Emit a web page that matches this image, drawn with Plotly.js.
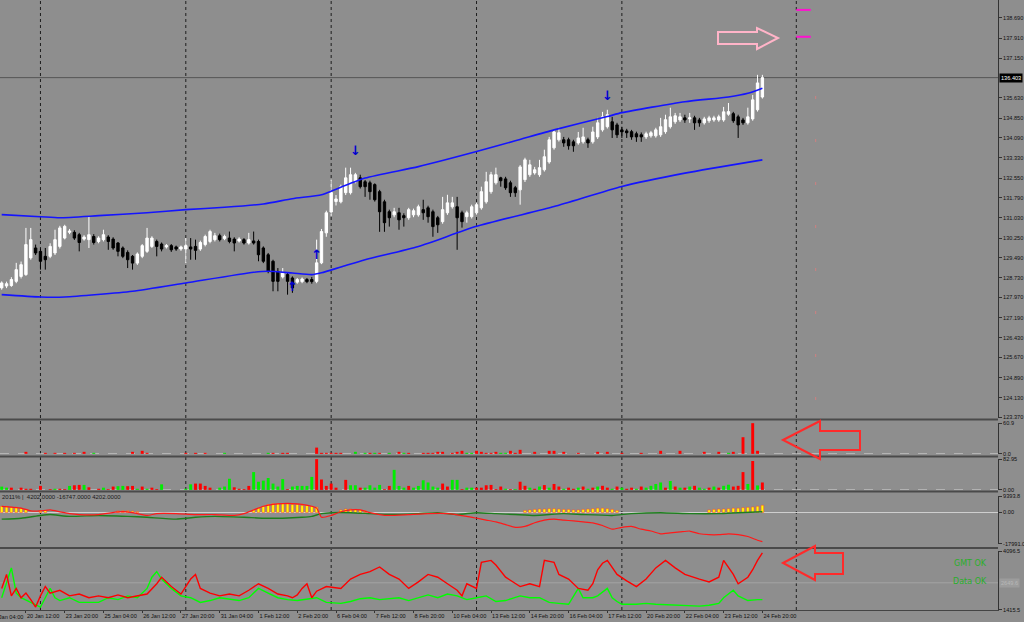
<!DOCTYPE html>
<html><head><meta charset="utf-8">
<script src="https://cdn.plot.ly/plotly-3.0.1.min.js"></script>
<style>html,body{margin:0;padding:0;background:#8e8e8e;}#chart{width:1024px;height:622px;}</style>
</head><body><div id="chart"></div>
<script>
// ---------------- DATA ----------------
const opens = [128.34,128.41,128.43,128.59,128.78,128.85,129.49,129.87,129.74,129.55,129.55,129.68,129.93,130.25,130.47,130.47,130.38,130.21,130.19,130.31,130.12,130.19,130.29,130.21,130.06,129.87,129.70,129.55,129.29,129.55,129.74,129.93,130.12,130.02,129.91,129.96,129.91,129.83,129.83,129.91,129.93,129.83,130.00,130.12,130.19,130.34,130.23,130.25,130.21,130.14,130.19,130.06,130.14,130.12,129.87,129.61,129.36,128.97,128.76,128.85,128.72,128.56,128.58,128.66,128.66,128.59,
129.30,130.45,131.25,131.65,131.64,131.99,131.99,132.41,132.56,132.41,132.37,132.30,132.03,131.64,131.26,131.14,131.22,131.11,131.03,131.14,131.14,131.34,131.41,131.26,131.03,130.88,131.22,131.45,131.45,131.22,131.07,131.07,131.22,131.41,131.64,132.03,132.37,132.56,132.52,132.37,132.18,132.10,132.49,132.68,132.75,132.68,132.87,133.17,133.71,134.02,134.02,134.02,133.94,133.90,133.94,134.02,133.94,134.13,134.40,134.52,134.71,134.59,134.40,134.36,134.33,134.25,134.21,134.13,134.17,134.17,134.21,134.33,134.52,134.71,134.78,134.86,134.82,134.86,134.78,134.67,134.75,134.78,134.78,134.78,135.00,135.02,134.90,134.78,134.67,134.82,135.17,135.66];
const highs = [128.59,128.58,128.75,129.30,129.35,130.64,130.64,130.00,129.85,129.87,130.05,130.57,130.72,130.76,130.60,130.55,130.45,130.36,131.06,130.40,130.32,130.57,130.36,130.28,130.10,129.93,129.78,129.60,129.70,130.02,130.64,130.32,130.19,130.08,130.02,130.02,129.96,129.96,130.25,130.25,130.19,130.15,130.38,130.57,130.45,130.42,130.38,130.50,130.28,130.28,130.25,130.45,130.50,130.19,129.93,129.68,129.42,129.10,129.10,128.93,128.78,128.72,128.74,128.72,128.76,130.19,
130.60,131.30,132.49,131.90,132.30,132.95,132.95,132.75,132.68,132.48,132.45,132.35,132.10,131.72,131.34,131.41,131.41,131.20,131.41,131.38,131.53,131.72,131.49,131.34,131.10,131.83,131.91,131.83,131.83,131.30,131.30,131.53,131.60,132.22,132.79,132.79,132.95,132.60,132.60,132.45,132.25,133.05,133.33,133.25,132.98,133.25,133.64,134.13,134.40,134.48,134.13,134.10,134.02,134.32,134.48,134.10,134.52,134.86,135.09,135.17,134.90,134.67,134.52,134.44,134.40,134.33,134.30,134.33,134.36,134.48,134.86,134.98,135.25,135.05,135.05,134.98,135.05,134.94,134.86,134.90,134.94,134.94,134.98,135.28,135.43,135.09,134.98,134.86,135.25,135.74,136.51,136.51];
const lows = [128.27,128.33,128.38,128.52,128.70,128.80,129.42,129.60,129.04,129.04,129.48,129.60,129.85,130.20,130.40,130.18,129.74,130.15,129.87,130.00,130.05,130.12,129.80,129.80,129.55,129.48,129.10,129.04,129.22,129.48,129.68,129.87,129.55,129.74,129.85,129.72,129.76,129.76,129.29,129.42,129.42,129.76,129.93,130.05,130.12,130.12,130.17,130.05,129.74,130.08,130.00,130.00,130.00,129.36,129.29,128.90,128.21,128.21,128.70,128.08,128.15,128.50,128.52,128.52,128.50,128.52,
129.25,130.30,131.10,131.50,131.58,131.90,131.92,132.35,132.15,131.83,131.72,131.65,130.49,130.49,130.69,131.05,130.57,130.69,130.95,131.05,131.07,130.95,130.84,130.30,130.45,130.80,131.14,131.38,129.80,130.65,130.84,131.00,131.15,131.34,131.57,131.95,132.30,132.22,132.10,131.83,131.83,131.53,132.40,132.60,132.68,132.60,132.80,133.10,133.64,133.95,133.75,133.64,133.56,133.83,133.87,133.71,133.87,134.05,134.33,134.45,134.09,134.09,134.09,134.09,134.02,133.94,133.94,134.05,134.10,134.10,134.13,134.25,134.45,134.63,134.70,134.67,134.67,134.40,134.52,134.60,134.67,134.71,134.71,134.71,134.94,134.67,134.09,134.59,134.60,134.75,135.10,135.60];
const closes = [128.53,128.50,128.66,129.04,129.23,130.00,130.19,129.68,129.36,129.42,129.93,130.19,130.64,130.70,130.52,130.25,130.08,130.29,130.38,130.08,130.25,130.38,130.12,129.87,129.74,129.55,129.42,129.29,129.64,129.96,130.25,130.25,129.93,129.83,129.96,129.80,129.83,129.91,129.96,129.83,129.78,130.08,130.31,130.50,130.34,130.19,130.31,130.12,130.06,130.21,130.06,130.19,130.06,129.61,129.36,128.97,128.59,128.59,128.91,128.59,128.34,128.66,128.68,128.58,128.58,129.30,
130.50,131.22,132.00,131.75,132.22,132.56,132.68,132.68,132.22,132.22,132.03,131.72,131.26,130.84,131.03,131.26,130.95,131.03,131.34,131.30,131.45,131.22,131.07,130.69,130.76,131.34,131.60,131.60,131.03,130.88,131.22,131.45,131.53,132.03,132.41,132.68,132.68,132.45,132.18,131.99,131.99,132.98,133.25,133.06,132.87,132.95,133.37,134.02,134.32,134.29,133.90,133.79,133.79,134.09,134.13,133.90,134.32,134.67,134.90,134.98,134.40,134.21,134.32,134.29,134.13,134.13,134.13,134.25,134.29,134.40,134.52,134.79,134.90,134.94,134.90,134.78,134.86,134.67,134.67,134.82,134.86,134.86,134.90,135.09,135.10,134.75,134.59,134.67,134.90,135.55,136.20,136.403];

const upperBandX = [0,8,12,20,30,38,46,54,60,66,68,75,86,98,106,114,125,128,141,150,154,157];
const upperBandY = [131.15,131.07,131.03,131.11,131.22,131.34,131.43,131.56,131.76,131.91,132.05,132.55,132.99,133.57,133.98,134.40,134.91,135.06,135.48,135.66,135.80,136.00];
const lowerBandX = [0,8,13,27,38,52,55,60,64,66,70,75,86,98,114,128,141,157];
const lowerBandY = [128.08,127.99,127.99,128.21,128.53,128.94,128.98,128.91,128.85,128.92,129.14,129.42,129.93,130.70,131.46,132.23,132.74,133.25];

const arrowUpX = [60,65], arrowUpY = [128.33,129.58];
const arrowDownX = [73,125], arrowDownY = [133.56,135.66];
const targetLevels = [139.00,137.97];

const priceTicks = ['123.370','124.130','124.890','125.670','126.430','127.190','127.970','128.730','129.490','130.250','131.030','131.790','132.550','133.330','134.090','134.850','135.630','137.150','137.910','138.690'];
const firstXLabel = '19 Jan 04:00', firstXLabelBar = -3;
const xTickBars = [5,13,21,29,37,45,53,61,69,77,85,93,101,109,117,125,133,141,149,157];
const xTickLabels = ['20 Jan 12:00','23 Jan 20:00','25 Jan 04:00','26 Jan 12:00','27 Jan 20:00','31 Jan 04:00','1 Feb 12:00','2 Feb 20:00','6 Feb 04:00','7 Feb 12:00','8 Feb 20:00','10 Feb 04:00','13 Feb 12:00','14 Feb 20:00','16 Feb 04:00','17 Feb 12:00','20 Feb 20:00','22 Feb 04:00','23 Feb 12:00','24 Feb 20:00'];
const gridBars = [8,38,68,98,128,164];

const p2RedX = [5,9,11,13,15,17,27,29,30,38,40,42,56,58,59,65,66,67,68,69,70,76,78,82,84,87,88,89,90,91,93,94,95,98,99,100,101,102,105,106,107,110,113,114,116,119,123,125,128,132,136,140,145,148,151,153,155,156];
const p2RedV = [4,2,2,2,2,4,4,6,2,2,2,2,2,2,2,12.4,2,2,2,2,2,2,2,4,2,2,2,2,4,4,2,4,6,6,4,2,2,4,6,2,8,4,6,6,4,2,4,4,2,2,6,6,4,4,4,33,60.9,6];
const p2GreenX = [19,46,55,73,75,77,80,83,96,97,103,104,150];
const p2GreenV = [2,2,2,4,2,2,2,2,2,2,2,2,2];

const p3RedX = [2,4,5,6,8,10,12,13,15,16,18,20,22,23,26,27,29,31,32,40,41,42,43,48,49,50,51,59,65,66,67,68,69,71,74,79,80,84,91,92,95,98,99,100,101,102,103,105,107,108,110,112,114,115,117,118,120,122,124,125,127,129,130,132,137,139,141,143,146,148,151,152,153,155,157];
const p3RedV = [6,6,3,3,10.7,2,3,2,12.5,13.4,7,3,2,9,10,10.7,9,6,2,17,17,10.7,6,7,3,2,10.7,2,82.95,28,10.7,17,6,27,6,2,10.7,10.7,17,9,2,6,6,12.5,13.4,2,9,2,22,11,3,13,16,9,6,3,9,6,11,6,9,3,6,9,6,9,6,11,6,6,9,11,48,78,20];
const p3GreenX = [0,1,11,14,17,21,24,25,28,30,33,38,39,45,46,47,52,53,54,55,56,57,58,60,61,62,63,64,72,73,75,76,77,78,81,82,83,85,86,87,88,89,90,93,94,96,97,104,106,109,111,113,116,119,121,123,126,128,131,133,134,135,136,138,140,142,144,145,147,149,150,154,156];
const p3GreenV = [8.9,6,3,10.7,13.4,6,10,10.7,3,3,15,3,15,6,9,30,48,22,25,32,17,9,29,9,10.7,10.7,10.7,35,12.5,12.5,6,12.5,6,13.4,54,10.7,6,6,10.7,26,20,9,6,27,27,6,6,3,2,6,9,6,3,6,3,9,3,6,3,6,11,16,20,24,6,9,6,3,9,11,14,16,12];

const p4HistX = [0,1,2,3,4,5,8,9,24,25,26,27,28,52,53,54,55,56,57,58,59,60,61,62,63,64,65,70,71,72,73,74,75,108,109,110,111,112,113,114,115,116,117,118,119,120,121,122,123,124,125,126,127,146,147,148,149,150,151,152,153,154,155,156,157];
const p4HistV = [3584,3584,3057,3057,2530,2003,949,1200,900,1000,1000,800,500,1476,2530,3584,4638,5165,5165,5165,4900,4638,4638,4110,4110,3584,3060,1500,2000,2000,1800,1500,1000,1200,1500,1800,2000,2000,2200,2200,2000,1800,1800,1500,1500,1800,2000,2200,2500,2500,2200,1800,1200,1500,1800,2000,2000,2200,2500,2500,2800,3000,3200,3600,4202];
const p4RedX = [0,2,4,6,8,10,12,14,16,20,24,26,28,30,32,36,40,44,48,50,52,54,56,58,60,62,64,65,66,68,70,72,74,76,78,80,84,88,92,96,98,100,102,104,106,108,110,112,114,116,118,120,122,124,126,128,130,132,134,136,138,140,142,144,146,148,150,152,154,156,157];
const p4RedV = [3584,3057,2530,949,949,1476,422,-632,-1159,-1159,422,422,-632,-1686,-632,-632,-1159,-1159,-1686,-632,1476,3584,4638,5165,5165,4638,3584,2530,-2740,-1686,422,1476,1476,-105,-1159,-1686,-1159,-632,-632,-2213,-3267,-4321,-5375,-6956,-8537,-8010,-5902,-4321,-3794,-4321,-4848,-5375,-5902,-7483,-9591,-8537,-8010,-9591,-10645,-12226,-11699,-11172,-10645,-12226,-12753,-12753,-12226,-12753,-13807,-15915,-16747];
const p4GreenX = [0,4,8,10,14,20,26,30,36,40,44,50,54,58,62,64,66,68,72,76,80,86,90,94,98,102,106,110,116,120,126,130,136,142,148,152,157];
const p4GreenV = [-3794,-3267,-1686,-1159,-2213,-1686,-2213,-2740,-3794,-2740,-2213,-2740,-3267,-3267,-2740,-2213,-632,-105,-105,-632,-1159,-632,-105,-1159,-105,-632,-1159,-1686,-632,-1159,-1686,-632,-105,-632,-632,-105,422];
const p4Text = '2011% |  4202.0000 -16747.0000 4202.0000';

const p5RedX = [0,1,2,3,4,5,6,7,8,9,10,12,14,16,18,20,22,24,26,28,30,32,33,35,37,39,40,41,43,45,47,49,51,53,55,57,59,60,61,62,63,64,65,67,70,72,74,76,78,80,82,84,86,88,90,92,94,95,96,98,99,101,102,104,107,109,111,112,114,115,117,119,121,122,123,124,125,127,129,131,133,135,137,139,141,144,146,148,149,151,152,154,155,156,157];
const p5RedV = [2394,3033,2054,2394,1969,2181,1883,1543,2054,2479,2181,2309,2054,2139,1969,2054,1969,2096,1969,2054,2139,2607,2905,2479,2139,2820,3033,2394,2181,2054,2139,2054,2309,2607,2394,2139,2054,1969,2096,2394,2607,1969,2267,2479,2394,2820,3033,3160,3373,3033,2820,2394,2692,3033,2905,2607,2309,2054,2607,2394,3586,3671,3458,2905,2479,2607,2479,3671,3586,3033,2820,2394,2309,2607,3245,3543,3671,3033,2735,2479,2820,3330,3671,3330,3033,2820,2692,2905,3671,3033,2607,2905,3245,3671,4011];
const p5GreenX = [0,1,2,3,4,6,8,9,10,11,12,14,16,20,22,24,26,28,30,31,32,33,35,37,39,41,43,45,49,51,53,55,57,59,61,65,67,70,72,74,76,78,80,82,84,86,88,90,92,94,96,98,100,102,104,107,109,111,113,115,117,119,120,122,123,125,126,127,128,131,133,135,139,144,146,148,149,151,152,154,156,157];
const p5GreenV = [1969,2607,3330,2181,1969,1756,1543,1969,2394,1969,1841,1969,1756,1756,1969,1883,2054,1969,2394,2905,3160,2820,2394,2054,1969,1756,1841,1969,1841,1969,2394,2181,1969,1883,1841,1969,1756,1713,1798,1926,1969,1883,1926,1969,1841,1969,2096,1969,2139,2054,1883,1969,2054,1798,1841,2054,1969,1969,1756,1713,1671,2394,1969,1969,2054,2394,1969,1798,1671,1671,1713,1671,1628,1586,1628,1713,1969,2309,2054,1841,1883,1883];
const p5Level = 2649.6;
const statusTexts = ['GMT OK','Data OK'];

// ---------------- LAYOUT HELPERS ----------------
const W = 1024, H = 622;
const M = {l:0, r:26, t:0, b:12};
const PW = W - M.l - M.r, PH = H - M.t - M.b;
const fy = px => (PH - px) / PH;
const fx = px => px / PW;
const dom = (a, b) => [fy(b), fy(a)];
const barIdx = closes.map((_, i) => i);
const FONT = 'Liberation Sans, Arial, sans-serif';
const BG = '#8e8e8e';
const XR = [-0.351, 205.63];
const barToPaper = b => (b - XR[0]) / (XR[1] - XR[0]);

function yax(domain, range, vals, texts) {
  return {domain, range, side:'right', anchor:'x', showgrid:false, zeroline:false,
    showline:true, linecolor:'#333', linewidth:1, ticks:'outside', ticklen:3, tickcolor:'#333',
    tickvals:vals, ticktext:texts, tickfont:{family:FONT, size:5.6, color:'#111'}, fixedrange:true};
}

const traces = [
  {type:'candlestick', x:barIdx, open:opens, high:highs, low:lows, close:closes, xaxis:'x', yaxis:'y',
   increasing:{line:{color:'#ffffff', width:1}, fillcolor:'#ffffff'},
   decreasing:{line:{color:'#000000', width:1}, fillcolor:'#000000'}, whiskerwidth:0, hoverinfo:'skip'},
  {type:'scatter', mode:'lines', x:upperBandX, y:upperBandY, yaxis:'y', line:{color:'#1414ff', width:1.6, shape:'spline', smoothing:0.6}},
  {type:'scatter', mode:'lines', x:lowerBandX, y:lowerBandY, yaxis:'y', line:{color:'#1414ff', width:1.6, shape:'spline', smoothing:0.6}},
  {type:'scatter', mode:'text', x:arrowUpX, y:arrowUpY, yaxis:'y', text:arrowUpX.map(()=>'<b>↑</b>'), textfont:{family:'DejaVu Sans', size:13, color:'#0000d0'}},
  {type:'scatter', mode:'text', x:arrowDownX, y:arrowDownY, yaxis:'y', text:arrowDownX.map(()=>'<b>↓</b>'), textfont:{family:'DejaVu Sans', size:13, color:'#0000d0'}},
  {type:'scatter', mode:'lines', x:[164,167,null,164,167], y:[targetLevels[0],targetLevels[0],null,targetLevels[1],targetLevels[1]], yaxis:'y', line:{color:'#ff10d0', width:2}},
  {type:'bar', x:p2RedX, y:p2RedV, yaxis:'y2', width:0.6, marker:{color:'#ff0000', line:{width:0}}},
  {type:'bar', x:p2GreenX, y:p2GreenV, yaxis:'y2', width:0.6, marker:{color:'#00e600', line:{width:0}}},
  {type:'bar', x:p3RedX, y:p3RedV, yaxis:'y3', width:0.6, marker:{color:'#ff0000', line:{width:0}}},
  {type:'bar', x:p3GreenX, y:p3GreenV, yaxis:'y3', width:0.6, marker:{color:'#00ee00', line:{width:0}}},
  {type:'bar', x:p4HistX, y:p4HistV, yaxis:'y4', width:0.55, marker:{color:'#ffff00', line:{color:'#ff3a3a', width:0.5}}},
  {type:'scatter', mode:'lines', x:p4GreenX, y:p4GreenV, yaxis:'y4', line:{color:'#1e7e1e', width:1.4, shape:'spline', smoothing:0.5}},
  {type:'scatter', mode:'lines', x:p4RedX, y:p4RedV, yaxis:'y4', line:{color:'#ff1a1a', width:1.2, shape:'spline', smoothing:0.5}},
  {type:'scatter', mode:'lines', x:p5GreenX, y:p5GreenV, yaxis:'y5', line:{color:'#00ff00', width:1.4}},
  {type:'scatter', mode:'lines', x:p5RedX, y:p5RedV, yaxis:'y5', line:{color:'#ff0000', width:1.4}}
];

const lastClose = closes[closes.length - 1];
const shapes = [];
gridBars.forEach(g => shapes.push({type:'line', xref:'x', yref:'paper', x0:g, x1:g, y0:0, y1:1, line:{color:'#1e1e1e', width:1, dash:'dot'}, layer:'below'}));
shapes.push({type:'line', xref:'x', yref:'paper', x0:168, x1:168, y0:fy(400), y1:fy(75), line:{color:'#d08080', width:1, dash:'3px,40px'}, layer:'below'});
shapes.push({type:'line', xref:'paper', yref:'y', x0:0, x1:1, y0:lastClose, y1:lastClose, line:{color:'#555555', width:1}, layer:'below'});
[419.5, 456.5, 491.5, 548].forEach(p => shapes.push({type:'line', xref:'paper', yref:'paper', x0:0, x1:1, y0:fy(p), y1:fy(p), line:{color:'#4a4a4a', width:2}}));
shapes.push({type:'line', xref:'paper', yref:'y2', x0:0, x1:1, y0:0, y1:0, line:{color:'#c8c8c8', width:1, dash:'dash'}, layer:'below'});
shapes.push({type:'line', xref:'paper', yref:'y3', x0:0, x1:1, y0:0, y1:0, line:{color:'#c8c8c8', width:1, dash:'dash'}, layer:'below'});
shapes.push({type:'line', xref:'paper', yref:'y4', x0:0, x1:1, y0:0, y1:0, line:{color:'#d0d0d0', width:1}, layer:'below'});
shapes.push({type:'line', xref:'paper', yref:'y5', x0:0, x1:1, y0:p5Level, y1:p5Level, line:{color:'#a4a4a4', width:1}, layer:'below'});

function arrowPath(pts) {
  return 'M' + pts.map(p => fx(p[0]) + ',' + fy(p[1])).join(' L') + ' Z';
}
shapes.push({type:'path', xref:'paper', yref:'paper', path:arrowPath([[718,32],[757,32],[757,28],[778,38],[757,49],[757,44],[718,44]]), line:{color:'#ffb4c8', width:2}});
shapes.push({type:'path', xref:'paper', yref:'paper', path:arrowPath([[783,440],[820,421],[820,431],[860,431],[860,450],[820,450],[820,459]]), line:{color:'#ff2a2a', width:2}});
shapes.push({type:'path', xref:'paper', yref:'paper', path:arrowPath([[783,563],[815,546],[815,553],[843,553],[843,574],[815,574],[815,580]]), line:{color:'#ff2a2a', width:2}});

const annotations = [
  {xref:'paper', yref:'y', x:1, y:lastClose, xanchor:'left', xshift:1, text:lastClose.toFixed(3), showarrow:false,
   bgcolor:'#000000', font:{family:FONT, size:5.6, color:'#ffffff'}, borderpad:1},
  {xref:'paper', yref:'paper', x:0, y:fy(497), xanchor:'left', yanchor:'middle', text:p4Text, showarrow:false,
   font:{family:FONT, size:6, color:'#1a1a1a'}},
  {xref:'paper', yref:'paper', x:fx(989), y:fy(563), xanchor:'right', yanchor:'middle', text:statusTexts[0], showarrow:false,
   font:{family:'DejaVu Sans', size:8, color:'#2aae2a'}},
  {xref:'paper', yref:'paper', x:fx(989), y:fy(581), xanchor:'right', yanchor:'middle', text:statusTexts[1], showarrow:false,
   font:{family:'DejaVu Sans', size:8, color:'#2aae2a'}},
  {xref:'paper', yref:'y5', x:1, y:p5Level, xanchor:'left', xshift:1, text:p5Level.toFixed(1), showarrow:false,
   bgcolor:'#9c9c9c', font:{family:FONT, size:5.6, color:'#b8b8b8'}, borderpad:1},
  {xref:'paper', yref:'paper', x:barToPaper(firstXLabelBar), y:fy(616.5), xanchor:'left', yanchor:'middle', xshift:2, text:firstXLabel, showarrow:false,
   font:{family:FONT, size:5.6, color:'#111'}}
];

const layout = {
  width:W, height:H, margin:M, paper_bgcolor:BG, plot_bgcolor:BG, showlegend:false, barmode:'overlay',
  font:{family:FONT, size:6, color:'#111'},
  xaxis:{domain:[0,1], anchor:'y5', range:XR, type:'linear', tickvals:xTickBars, ticktext:xTickLabels,
    tickangle:0, ticks:'outside', ticklen:2, tickcolor:'#333', ticklabelposition:'outside right',
    tickfont:{family:FONT, size:5.6, color:'#111'}, showgrid:false, zeroline:false, showline:true, linecolor:'#444',
    rangeslider:{visible:false}, fixedrange:true},
  yaxis: yax(dom(0,418), [123.37 - 0.02, 139.38], priceTicks.map(Number), priceTicks),
  yaxis2: yax(dom(423,454), [-0.3, 61.2], [60.9, 0], ['60.9','0.0']),
  yaxis3: yax(dom(459,490), [-0.3, 83.3], [82.95, 0], ['82.95','0.00']),
  yaxis4: yax(dom(496,544), [-18100, 9500], [9393.8, 0, -17991.0], ['9393.8','0.00','-17991.0']),
  yaxis5: yax(dom(551,610), [1410, 4100], [4096.5, 1415.5], ['4096.5','1415.5']),
  shapes, annotations
};

Plotly.newPlot('chart', traces, layout, {staticPlot:true, displayModeBar:false});
</script>
</body></html>
